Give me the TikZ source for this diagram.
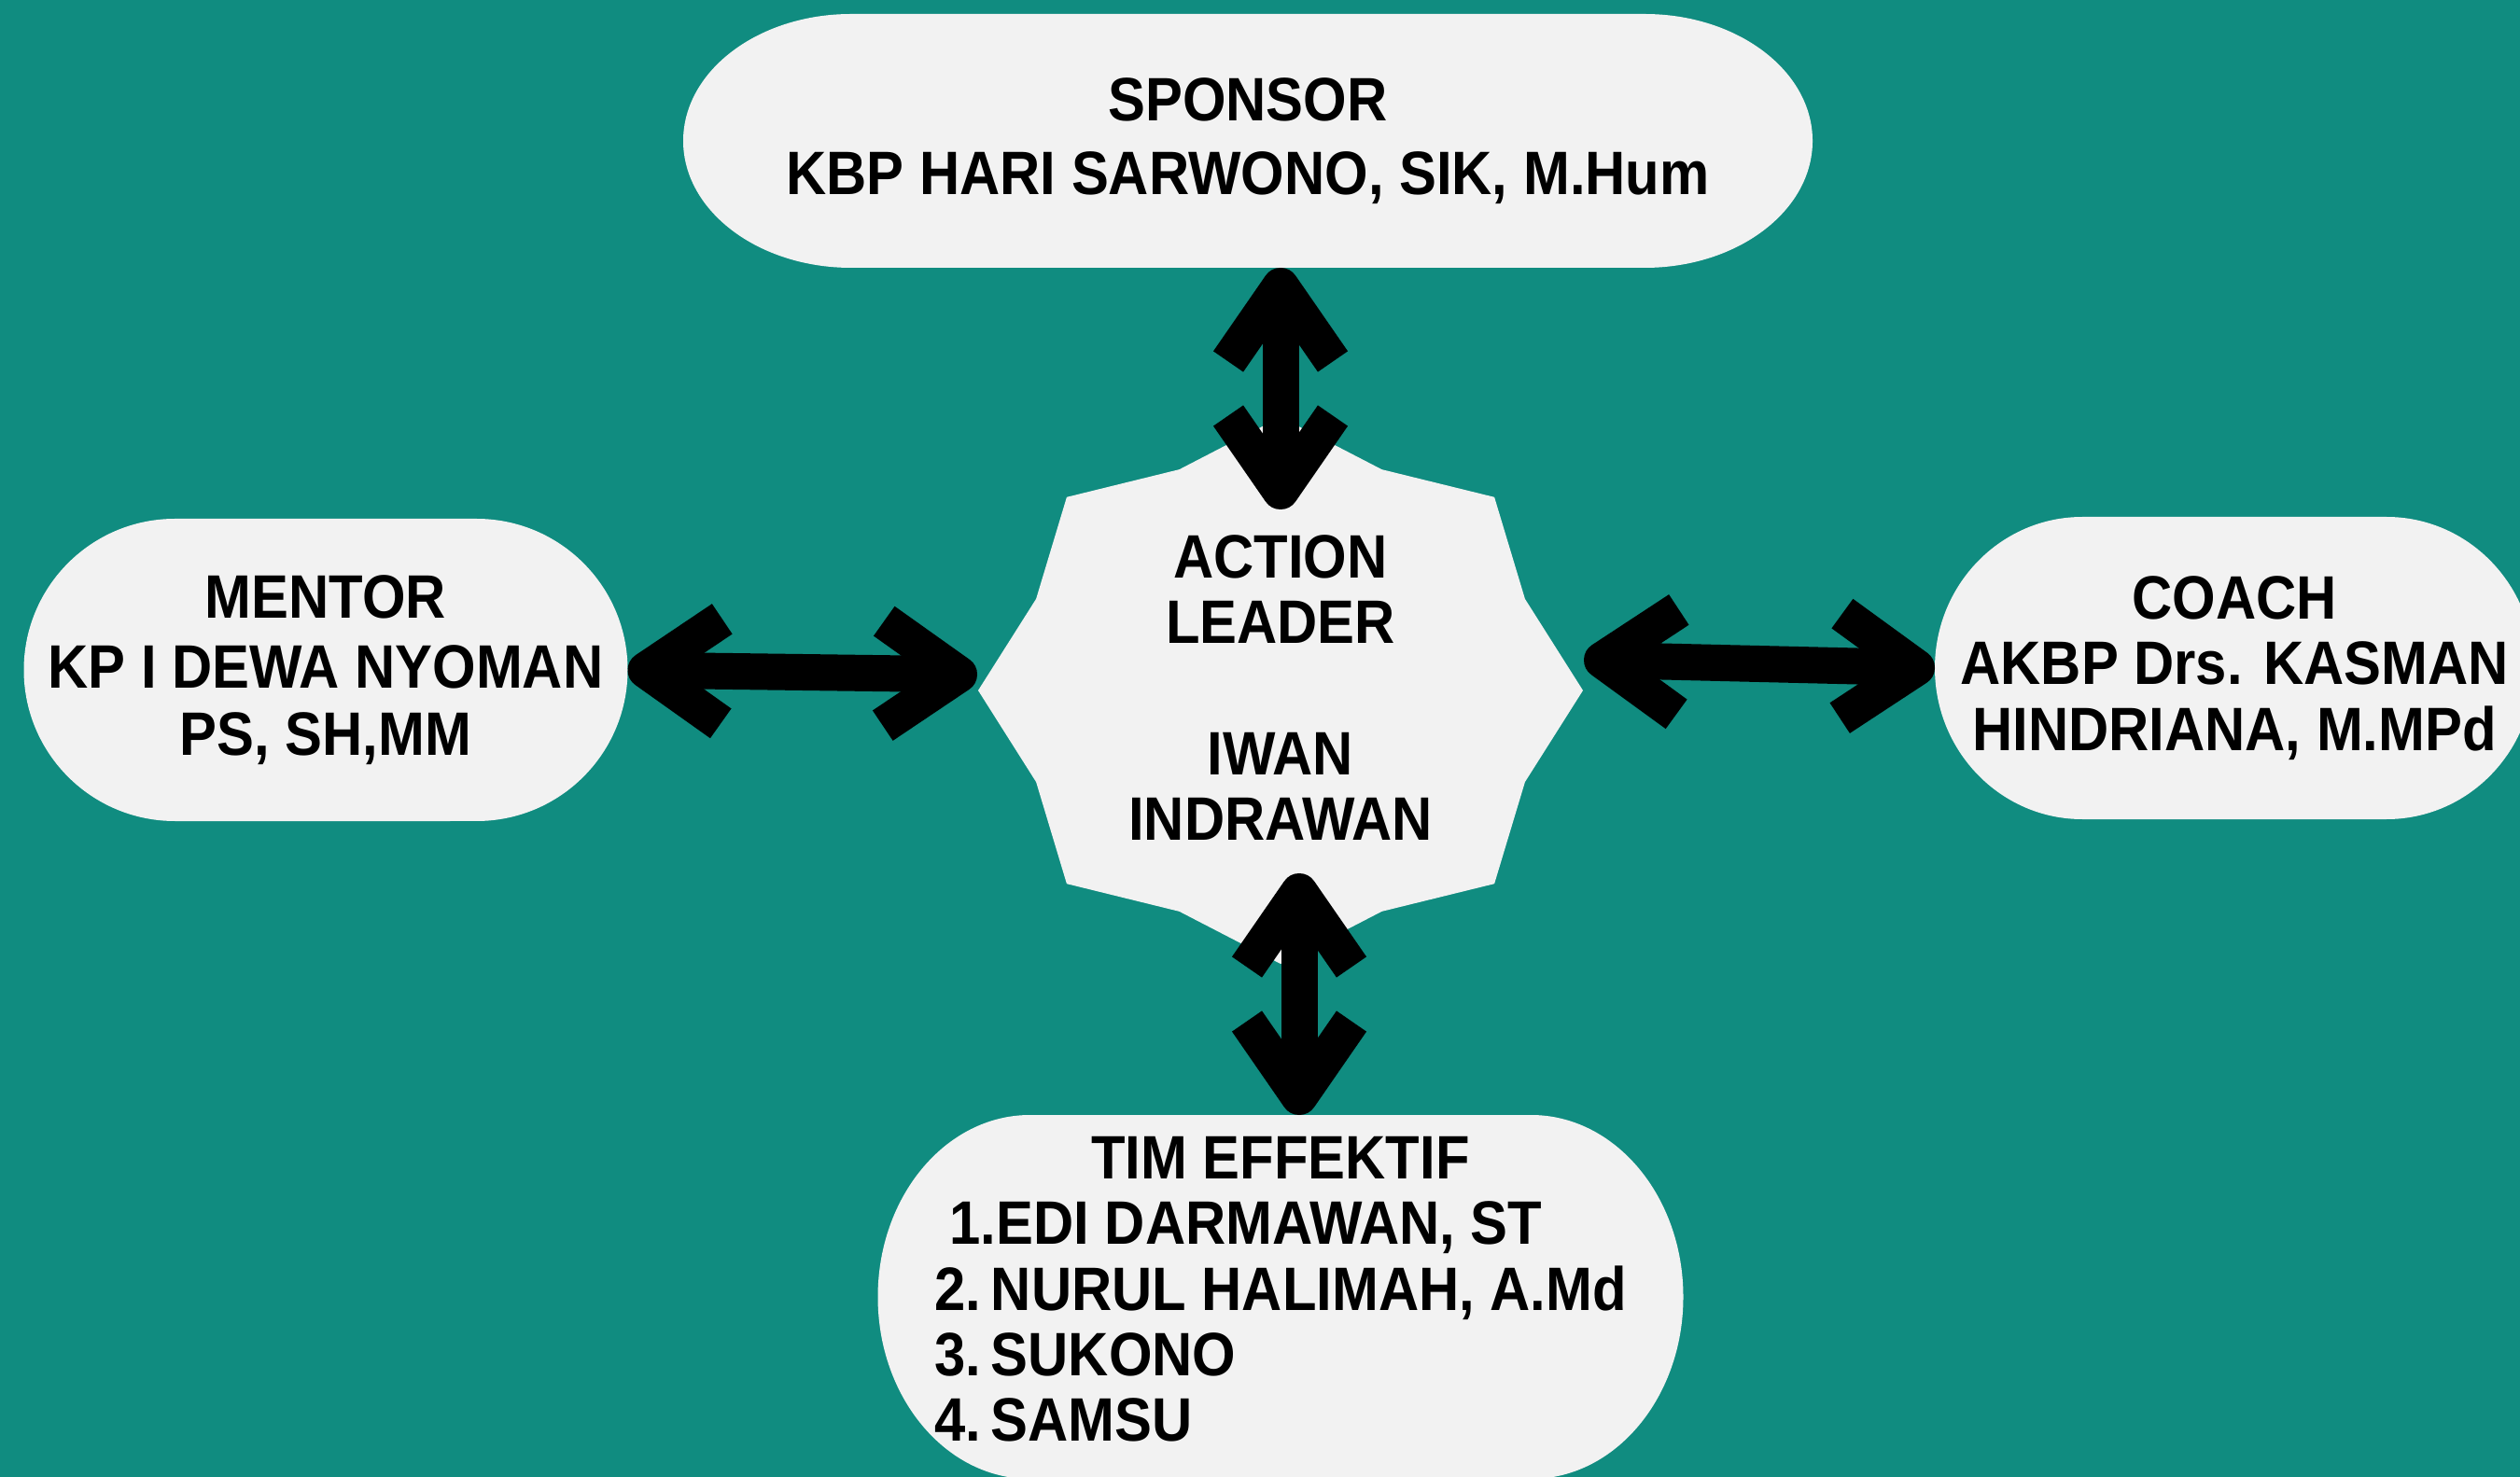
\documentclass[tikz,border=0pt]{standalone}
\usepackage{fontspec}
\setmainfont{Liberation Sans}[FakeStretch=0.91]
\usepackage{xcolor}
\usepackage{tikz}
\usetikzlibrary{arrows.meta}
\definecolor{bgteal}{RGB}{16,140,128}
\definecolor{boxgray}{RGB}{242,242,242}
\pgfdeclarelayer{back}
\pgfdeclarelayer{shapes}
\pgfsetlayers{back,shapes,main}
\newcommand{\boxfont}{\fontsize{18.7}{20}\selectfont\bfseries}
% oval with half-elliptic ends behind a named node: #1 node, #2 x radius, #3 y radius
\newcommand{\ovalfill}[3]{%
  \begin{pgfonlayer}{shapes}
  \fill[boxgray] ([xshift=#2]#1.north west) -- ([xshift=-#2]#1.north east)
    arc[start angle=90, end angle=-90, x radius=#2, y radius=#3]
    -- ([xshift=#2]#1.south west)
    arc[start angle=270, end angle=90, x radius=#2, y radius=#3] -- cycle;
  \end{pgfonlayer}}

\begin{document}
\begin{tikzpicture}[box/.style={inner sep=0pt, outer sep=0pt, align=center, font=\boxfont}, link/.style={<->, >={Straight Barb[length=0.81cm, width=1.12cm, line join=round]}, line width=0.39cm, black}]
\useasboundingbox (0,0) rectangle (27,-15.83);
\begin{pgfonlayer}{back}
\fill[bgteal] (0,0) rectangle (27,-15.83);
\end{pgfonlayer}
\node[box, minimum width=12.10cm, minimum height=2.72cm] (sponsor) at (13.37,-1.51) {SPONSOR\\[2.5pt]KBP HARI SARWONO, SIK, M.Hum};
\ovalfill{sponsor}{1.8cm}{1.36cm}
\node[box, minimum width=6.47cm, minimum height=3.24cm] (mentor) at (3.49,-7.18) {MENTOR\\[1.5pt]KP I DEWA NYOMAN\\[0.5pt]PS, SH,MM};
\ovalfill{mentor}{1.62cm}{1.62cm}
\node[box, minimum width=6.42cm, minimum height=3.24cm] (coach) at (23.94,-7.16) {COACH\\AKBP Drs. KASMAN\\HINDRIANA, M.MPd};
\ovalfill{coach}{1.58cm}{1.62cm}
\node[box, minimum width=8.63cm, minimum height=3.90cm] (tim) at (13.72,-13.90) {\begin{tabular}{@{}l@{}}\multicolumn{1}{@{}c@{}}{TIM EFFEKTIF}\\ ~1.EDI DARMAWAN, ST\\ 2.\,NURUL HALIMAH, A.Md\\ 3.\,SUKONO\\ 4.\,SAMSU\end{tabular}};
\ovalfill{tim}{1.63cm}{1.95cm}
% eight-pointed star for the action leader
\fill[boxgray, shift={(13.72,-7.40)}] (3.24,0) \foreach \k [evaluate=\k as \r using {1-0.125*mod(\k,2)}] in {1,...,15} { -- ({\r*3.24*cos(22.5*\k)}, {\r*2.93*sin(22.5*\k)}) } -- cycle;
\node[box] (leader) at (13.72,-7.37) {ACTION\\LEADER\\[20pt]IWAN\\INDRAWAN};
\coordinate (ltop) at (13.72,-5.46);
\coordinate (lbot) at (13.92,-9.36);
\coordinate (lleft) at (10.47,-7.23);
\coordinate (lright) at (16.97,-7.07);
\draw[link] (sponsor.south -| ltop) -- (ltop);
\draw[link] (lbot) -- (lbot |- tim.north);
\draw[link] (mentor.east) -- (lleft);
\draw[link] (lright) -- (coach.west);
\end{tikzpicture}
\end{document}
